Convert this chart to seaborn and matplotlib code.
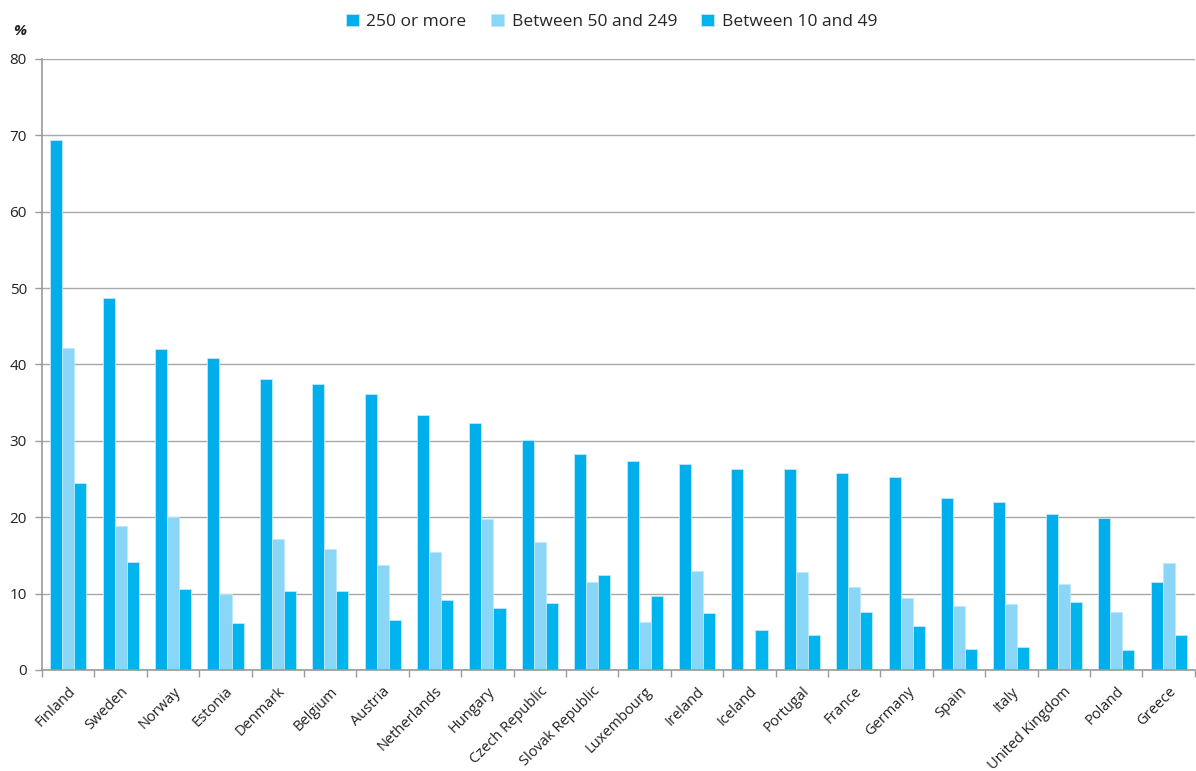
import numpy as np
import pandas as pd
import matplotlib
matplotlib.use("Agg")
import matplotlib.pyplot as plt
import seaborn as sns

countries = ["Finland", "Sweden", "Norway", "Estonia", "Denmark", "Belgium", "Austria",
             "Netherlands", "Hungary", "Czech Republic", "Slovak Republic", "Luxembourg",
             "Ireland", "Iceland", "Portugal", "France", "Germany", "Spain", "Italy",
             "United Kingdom", "Poland", "Greece"]
size_250_plus = [69.4, 48.7, 42.0, 40.9, 38.1, 37.5, 36.2, 33.4, 32.4, 30.1, 28.3, 27.3,
                 27.0, 26.3, 26.3, 25.8, 25.3, 22.5, 22.0, 20.4, 19.9, 11.5]
size_50_249 = [42.1, 18.9, 20.0, 10.0, 17.1, 15.8, 13.8, 15.4, 19.8, 16.8, 11.5, 6.3,
               13.0, np.nan, 12.8, 10.9, 9.4, 8.4, 8.7, 11.2, 7.6, 14.0]
size_10_49 = [24.5, 14.2, 10.6, 6.1, 10.4, 10.4, 6.5, 9.1, 8.1, 8.8, 12.4, 9.7,
              7.4, 5.3, 4.6, 7.6, 5.8, 2.8, 3.0, 8.9, 2.6, 4.6]
series_names = ["250 or more", "Between 50 and 249", "Between 10 and 49"]
y_ticks = [0, 10, 20, 30, 40, 50, 60, 70, 80]

df = pd.DataFrame({
    "country": countries * 3,
    "size": [series_names[0]] * len(countries) + [series_names[1]] * len(countries)
            + [series_names[2]] * len(countries),
    "value": size_250_plus + size_50_249 + size_10_49,
})

sns.set_theme(style="white")
plt.rcParams["font.family"] = ["Open Sans", "DejaVu Sans"]

fig = plt.figure(figsize=(11.96, 7.71), dpi=100)
ax = fig.add_axes([0.0352, 0.131, 0.9638, 0.7925])

palette = {series_names[0]: "#00AEEB", series_names[1]: "#8AD6F7", series_names[2]: "#00B4EE"}
sns.barplot(data=df, x="country", y="value", hue="size", order=countries,
            hue_order=series_names, palette=palette, width=0.69, saturation=1,
            edgecolor="#BFE9FA", linewidth=0.6, ax=ax, legend=True)

ax.set_ylim(0, 80)
ax.set_xlim(-0.5, len(countries) - 0.5)
ax.set_yticks(y_ticks)
ax.set_yticklabels([str(t) for t in y_ticks], fontsize=11, color="#222222")
ax.yaxis.grid(True, color="#A8A8A8", linewidth=1.0)
ax.set_axisbelow(True)
ax.set_xlabel("")
ax.set_ylabel("")

# category labels at centres, tick marks at group boundaries
ax.set_xticks(range(len(countries)))
ax.set_xticklabels(countries, rotation=45, ha="right", rotation_mode="anchor",
                   fontsize=10.5, color="#222222")
ax.tick_params(axis="x", which="major", length=0, pad=10)
ax.set_xticks(np.arange(-0.5, len(countries), 1.0), minor=True)
ax.tick_params(axis="x", which="minor", length=5, width=1, color="#999999", direction="out",
               bottom=True)
ax.tick_params(axis="y", length=5, width=1, color="#999999", direction="out", left=True, pad=6)

for s in ["top", "right"]:
    ax.spines[s].set_visible(False)
for s in ["left", "bottom"]:
    ax.spines[s].set_color("#999999")
    ax.spines[s].set_linewidth(1.2)

handles, labels = ax.get_legend_handles_labels()
ax.legend(handles, labels, loc="center", bbox_to_anchor=(0.494, 1.0606), ncol=3,
          frameon=False, fontsize=12.5, handlelength=0.75, handleheight=0.75,
          handletextpad=0.45, columnspacing=1.4)

fig.text(0.011, 0.955, "%", fontsize=11, fontweight="bold", fontstyle="italic", color="#222222")

fig.savefig("out.png", dpi=100)
